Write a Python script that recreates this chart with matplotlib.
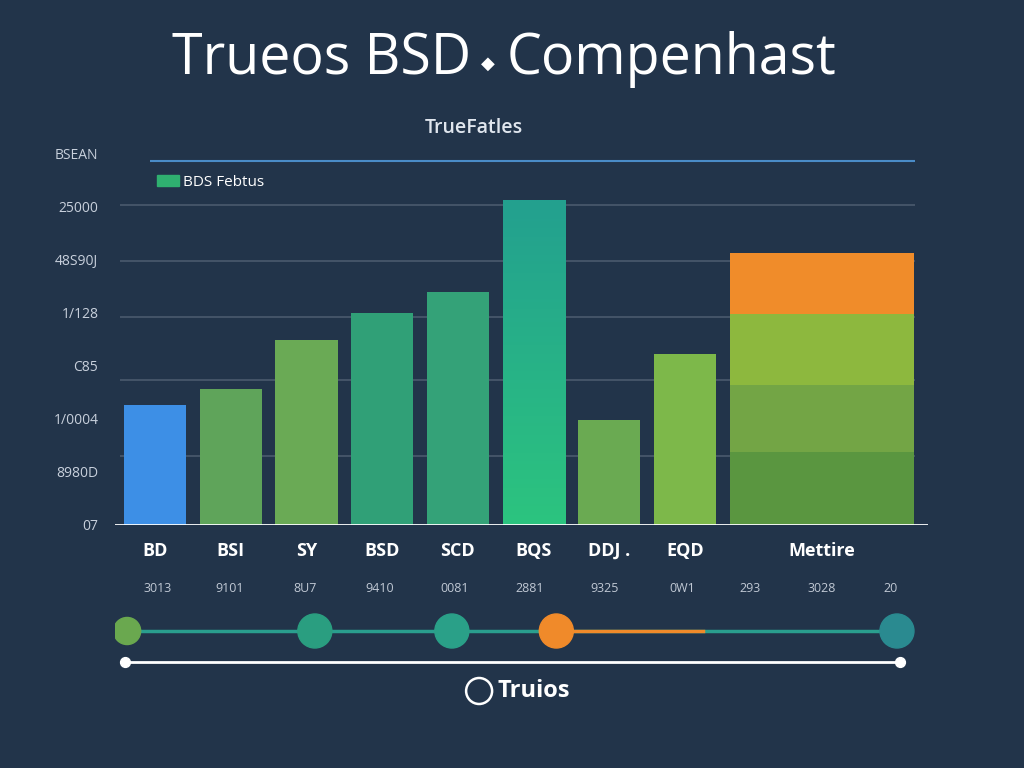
import numpy as np
import matplotlib.pyplot as plt
from matplotlib.patches import Patch

plt.rcParams['font.family'] = ['Open Sans', 'DejaVu Sans']

bg = '#22344a'

# bars
categories = ['BD', 'BSI', 'SY', 'BSD', 'SCD', 'BQS', 'DDJ .', 'EQD']
values = [2.26, 2.57, 3.49, 4.0, 4.40, 6.13, 1.98, 3.23]
colors = ['#3d8fe6', '#5fa45a', '#6aaa55', '#30a077', '#34a278', '#27b086', '#6aaa52', '#7db84a']

# stacked wide bar
stack_label = 'Mettire'
stack_values = [1.38, 1.26, 1.34, 1.15]
stack_colors = ['#5a9640', '#73a545', '#8db83e', '#f08c2a']

y_ticks = [0, 1, 2, 3, 4, 5, 6, 7]
y_labels = ['07', '8980D', '1/0004', 'C85', '1/128', '48S90J', '25000', 'BSEAN']
grid_vals = [1.30, 2.74, 3.92, 4.98, 6.04]

sub_labels = ['3013', '9101', '8U7', '9410', '0081', '2881', '9325', '0W1', '293', '3028', '20']
sub_pos = [0.03, 0.99, 1.98, 2.97, 3.96, 4.95, 5.94, 6.97, 7.86, 8.81, 9.72]

dots_x = [-0.37, 2.11, 3.92, 5.30, 9.80]
dots_c = ['#6aa84f', '#2a9e80', '#2aa088', '#f08a2a', '#2a8a90']

fig = plt.figure(figsize=(10.24, 7.68), dpi=100, facecolor=bg)

xl = (-0.53, 10.21)
ax = fig.add_axes([115 / 1024, 1 - 525 / 768, 813 / 1024, 387 / 768])
ax.set_facecolor(bg)
ax.set_xlim(*xl)
ax.set_ylim(0, 7.3)

for g in grid_vals:
    ax.hlines(g, -0.46, 10.04, color='#4a5a6e', lw=1.2, zorder=0)
ax.hlines(6.87, -0.07, 10.04, color='#4a8cc8', lw=1.5, zorder=0)

x = np.arange(len(categories))
bars = ax.bar(x, values, width=0.82, color=colors, zorder=2)

# gradient on the tallest bar
b = bars[5]
grad = np.linspace(0, 1, 256).reshape(-1, 1)
im = ax.imshow(grad, extent=[b.get_x(), b.get_x() + b.get_width(), 0, b.get_height()],
               aspect='auto', origin='lower', zorder=3,
               cmap=plt.matplotlib.colors.LinearSegmentedColormap.from_list('g', ['#2cc47f', '#23a08f']))
im.set_clip_path(b)

bottom = 0
for v, c in zip(stack_values, stack_colors):
    ax.bar(8.81, v, width=2.43, bottom=bottom, color=c, zorder=2)
    bottom += v

ax.axhline(0, color='white', lw=2, zorder=4)
ax.set_yticks(y_ticks)
ax.set_yticklabels(y_labels, color='#c8d0dc', fontsize=10)
ax.tick_params(axis='y', length=0, pad=12)
ax.set_xticks(list(x) + [8.81])
ax.set_xticklabels(categories + [stack_label], color='white', fontsize=13, fontweight='bold')
ax.tick_params(axis='x', length=0, pad=12)
for s in ax.spines.values():
    s.set_visible(False)

ax.legend(handles=[Patch(color='#2fb070', label='BDS Febtus')], loc='upper left',
          bbox_to_anchor=(0.035, 0.94), frameon=False, fontsize=11, labelcolor='white',
          handlelength=1.4, handletextpad=0.3)

# title in three parts so the diamond stays small
fig.text(0.460, 0.922, 'Trueos BSD', ha='right', va='center', fontsize=40,
         color='white', fontweight='medium')
fig.text(0.476, 0.917, '\u25c6', ha='center', va='center', fontsize=13, color='white')
fig.text(0.495, 0.922, 'Compenhast', ha='left', va='center', fontsize=40,
         color='white', fontweight='medium')
fig.text(0.463, 0.833, 'TrueFatles', ha='center', va='center', fontsize=14,
         color='#e0e6ee', fontweight='semibold')

# lower timeline
ax2 = fig.add_axes([115 / 1024, 1 - 720 / 768, 813 / 1024, 150 / 768])
ax2.set_facecolor('none')
ax2.set_xlim(*xl)
ax2.set_ylim(720, 570)
ax2.axis('off')

for t, px in zip(sub_labels, sub_pos):
    ax2.text(px, 589, t, ha='center', va='center', fontsize=9, color='#c0c8d4')

ax2.plot([dots_x[0], dots_x[-1]], [631, 631], color='#2a9e8e', lw=2.5, zorder=1)
ax2.plot([dots_x[3], 7.24], [631, 631], color='#f08a2a', lw=2.5, zorder=2)
ax2.scatter(dots_x, [631] * len(dots_x), s=[380, 600, 600, 600, 600], c=dots_c, zorder=3)

ax2.plot([-0.40, 9.84], [662, 662], color='white', lw=2)
ax2.scatter([-0.40, 9.84], [662, 662], s=50, c='white', zorder=3)

ax2.scatter([4.28], [691], s=350, facecolors='none', edgecolors='white', linewidths=1.8)
ax2.text(4.52, 691, 'Truios', ha='left', va='center', fontsize=17, color='white', fontweight='bold')

fig.savefig('out.png', dpi=100, facecolor=bg)
